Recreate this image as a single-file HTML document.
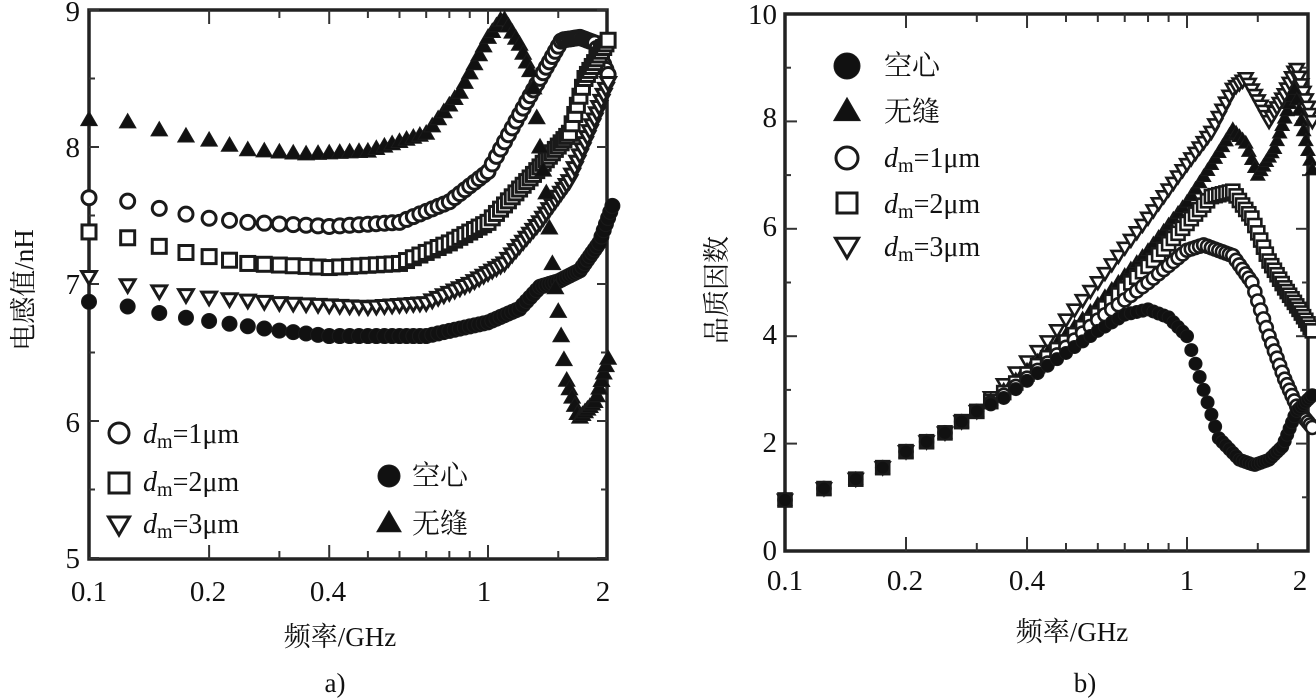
<!DOCTYPE html>
<html><head><meta charset="utf-8">
<style>
html,body{margin:0;padding:0;background:#fff;}
svg{display:block;}
text{font-family:"Liberation Serif","Noto Serif CJK SC","Noto Sans CJK SC",serif;fill:#111;}
</style></head>
<body>
<svg id="s" width="1316" height="698" viewBox="0 0 1316 698" xmlns="http://www.w3.org/2000/svg">
<g id="plots"></g>
<g font-size="29">
<text x="80" y="21" text-anchor="end">9</text>
<text x="80" y="157" text-anchor="end">8</text>
<text x="80" y="294" text-anchor="end">7</text>
<text x="80" y="432" text-anchor="end">6</text>
<text x="80" y="568" text-anchor="end">5</text>
<text x="89" y="601" text-anchor="middle">0.1</text>
<text x="208" y="601" text-anchor="middle">0.2</text>
<text x="328" y="601" text-anchor="middle">0.4</text>
<text x="484" y="601" text-anchor="middle">1</text>
<text x="603" y="601" text-anchor="middle">2</text>
</g>
<text x="340" y="646" font-size="27" text-anchor="middle">频率/GHz</text>
<text x="335" y="692" font-size="27" text-anchor="middle">a)</text>
<text transform="translate(33,290) rotate(-90)" font-size="27" text-anchor="middle">电感值/nH</text>
<g font-size="28">
<text x="143" y="443"><tspan font-style="italic">d</tspan><tspan font-size="20" dy="5">m</tspan><tspan dy="-5">=1μm</tspan></text>
<text x="143" y="491"><tspan font-style="italic">d</tspan><tspan font-size="20" dy="5">m</tspan><tspan dy="-5">=2μm</tspan></text>
<text x="143" y="533"><tspan font-style="italic">d</tspan><tspan font-size="20" dy="5">m</tspan><tspan dy="-5">=3μm</tspan></text>
<text x="412" y="485">空心</text>
<text x="412" y="533">无缝</text>
</g>
<g font-size="29">
<text x="777" y="24" text-anchor="end">10</text>
<text x="777" y="127" text-anchor="end">8</text>
<text x="777" y="236" text-anchor="end">6</text>
<text x="777" y="344" text-anchor="end">4</text>
<text x="777" y="452" text-anchor="end">2</text>
<text x="777" y="560" text-anchor="end">0</text>
<text x="785" y="590" text-anchor="middle">0.1</text>
<text x="905" y="590" text-anchor="middle">0.2</text>
<text x="1027" y="590" text-anchor="middle">0.4</text>
<text x="1187" y="590" text-anchor="middle">1</text>
<text x="1300" y="590" text-anchor="middle">2</text>
</g>
<text x="1072" y="641" font-size="27" text-anchor="middle">频率/GHz</text>
<text x="1085" y="692" font-size="27" text-anchor="middle">b)</text>
<text transform="translate(726,290) rotate(-90)" font-size="27" text-anchor="middle">品质因数</text>
<g font-size="28">
<text x="884" y="75">空心</text>
<text x="884" y="121">无缝</text>
<text x="884" y="167"><tspan font-style="italic">d</tspan><tspan font-size="20" dy="5">m</tspan><tspan dy="-5">=1μm</tspan></text>
<text x="884" y="213"><tspan font-style="italic">d</tspan><tspan font-size="20" dy="5">m</tspan><tspan dy="-5">=2μm</tspan></text>
<text x="884" y="256"><tspan font-style="italic">d</tspan><tspan font-size="20" dy="5">m</tspan><tspan dy="-5">=3μm</tspan></text>
</g>
</svg>
<script>
var NS="http://www.w3.org/2000/svg";
var G=document.getElementById("plots");
function el(t,a){var e=document.createElementNS(NS,t);for(var k in a)e.setAttribute(k,a[k]);G.appendChild(e);return e;}
function marker(type,x,y,r,sw){
  var fill=(type=="fc"||type=="ft")?"#111":"#fff";
  var st={stroke:"#1a1a1a","stroke-width":sw,fill:fill};
  if(type=="c"||type=="fc"){st.cx=x;st.cy=y;st.r=r;el("circle",st);}
  else if(type=="s"){st.x=x-r;st.y=y-r;st.width=2*r;st.height=2*r;el("rect",st);}
  else if(type=="ft"){st.points=(x)+","+(y-r*1.1)+" "+(x-r*1.1)+","+(y+r*0.8)+" "+(x+r*1.1)+","+(y+r*0.8);el("polygon",st);}
  else if(type=="t"){st.points=(x)+","+(y+r*1.0)+" "+(x-r*1.05)+","+(y-r*0.8)+" "+(x+r*1.05)+","+(y-r*0.8);el("polygon",st);}
}
function interp(d,f){
  var lf=Math.log(f);
  for(var i=0;i<d.length-1;i++){
    var a=d[i],b=d[i+1];
    if(f>=a[0]&&f<=b[0]){var t=(lf-Math.log(a[0]))/(Math.log(b[0])-Math.log(a[0]));return a[1]+t*(b[1]-a[1]);}
  }
  return d[d.length-1][1];
}
function series(d,type,X,Y,r,sw,fmax){
  for(var f=0.1;f<=fmax+1e-6;f+=0.025){marker(type,X(f),Y(interp(d,f)),r,sw);}
}
var LX=function(f){return 89+399*Math.log10(f/0.1);};
var LY=function(v){return 10+(9-v)*137;};
var L_c=[[0.1,6.87],[0.13,6.83],[0.16,6.77],[0.2,6.73],[0.3,6.66],[0.4,6.62],[0.7,6.62],[1.0,6.72],[1.2,6.82],[1.35,6.98],[1.5,7.02],[1.7,7.1],[1.9,7.3],[2.05,7.57]];
var L_t=[[0.1,8.2],[0.13,8.18],[0.16,8.1],[0.2,8.05],[0.25,7.98],[0.35,7.95],[0.5,7.97],[0.7,8.1],[0.85,8.4],[1.0,8.8],[1.09,8.95],[1.2,8.75],[1.29,8.52],[1.35,8.0],[1.41,7.6],[1.44,7.22],[1.5,6.8],[1.57,6.31],[1.69,6.02],[1.86,6.15],[2.02,6.5]];
var L_o1=[[0.1,7.63],[0.13,7.6],[0.16,7.53],[0.2,7.48],[0.25,7.45],[0.4,7.42],[0.6,7.45],[0.8,7.6],[1.0,7.82],[1.25,8.33],[1.53,8.78],[1.7,8.8],[1.85,8.76],[2.02,8.5]];
var L_o2=[[0.1,7.38],[0.13,7.33],[0.16,7.25],[0.2,7.2],[0.25,7.15],[0.4,7.12],[0.6,7.15],[0.8,7.3],[1.0,7.45],[1.3,7.8],[1.6,8.1],[1.75,8.5],[2.02,8.8]];
var L_o3=[[0.1,7.05],[0.13,6.98],[0.16,6.93],[0.2,6.9],[0.3,6.86],[0.5,6.83],[0.7,6.86],[0.9,7.0],[1.1,7.15],[1.35,7.45],[1.6,7.75],[1.85,8.2],[2.02,8.5]];
el("rect",{x:89,y:10,width:518,height:549,fill:"none",stroke:"#222","stroke-width":3.5});
[9,8.5,8,7.5,7,6.5,6,5.5,5].forEach(function(v){var len=(v%1==0)?10:6;el("line",{x1:89,y1:LY(v),x2:89+len,y2:LY(v),stroke:"#333","stroke-width":2});el("line",{x1:607,y1:LY(v),x2:607-len,y2:LY(v),stroke:"#333","stroke-width":2});});
[0.2,0.3,0.4,0.5,0.6,0.7,0.8,0.9,1,1.5].forEach(function(f){var len=(f==0.2||f==0.4||f==1)?14:8;el("line",{x1:LX(f),y1:559,x2:LX(f),y2:559-len,stroke:"#333","stroke-width":2});el("line",{x1:LX(f),y1:10,x2:LX(f),y2:10+len,stroke:"#333","stroke-width":2});});
series(L_o1,"c",LX,LY,7,3,2.02);
series(L_o2,"s",LX,LY,7,3,2.02);
series(L_o3,"t",LX,LY,7,3,2.02);
series(L_c,"fc",LX,LY,7.5,1,2.05);
series(L_t,"ft",LX,LY,7.5,1,2.02);
marker("c",119,433,10,3);marker("s",119,483,10,3);marker("t",119,525,10,3);
marker("fc",389,476,11,1);marker("ft",389,523,11,1);
var RX=function(f){return 785+402*Math.log10(f/0.1);};
var RY=function(v){return 551-53.7*v;};
var common=[[0.1,0.95],[0.13,1.2],[0.16,1.4],[0.18,1.6],[0.2,1.85],[0.25,2.2],[0.3,2.6]];
function c(a){return common.concat(a);}
var R_c=c([[0.35,2.85],[0.45,3.45],[0.6,4.1],[0.7,4.4],[0.8,4.5],[0.9,4.35],[1.0,4.0],[1.1,3.0],[1.2,2.1],[1.35,1.7],[1.47,1.6],[1.6,1.7],[1.73,1.95],[1.87,2.6],[2.05,2.9]]);
var R_t=c([[0.35,3.0],[0.45,3.7],[0.6,4.6],[0.8,5.6],[1.0,6.5],[1.15,7.2],[1.3,7.85],[1.4,7.6],[1.5,7.0],[1.65,7.5],[1.85,8.6],[2.05,7.1]]);
var R_1=c([[0.35,2.9],[0.45,3.5],[0.6,4.3],[0.8,5.0],[1.0,5.6],[1.1,5.7],[1.3,5.5],[1.45,5.0],[1.6,4.0],[1.75,3.2],[1.9,2.6],[2.05,2.3]]);
var R_2=c([[0.35,2.95],[0.45,3.6],[0.6,4.4],[0.8,5.3],[1.0,6.1],[1.15,6.6],[1.3,6.7],[1.45,6.2],[1.6,5.4],[1.75,4.9],[1.9,4.5],[2.05,4.1]]);
var R_3=c([[0.35,3.1],[0.45,3.9],[0.6,5.0],[0.8,6.2],[1.0,7.2],[1.15,7.8],[1.3,8.6],[1.4,8.8],[1.6,8.0],[1.75,8.5],[1.87,9.0],[2.05,8.0]]);
el("rect",{x:785,y:14,width:523,height:537,fill:"none",stroke:"#222","stroke-width":3.5});
[1,2,3,4,5,6,7,8,9].forEach(function(v){var len=(v%2==0)?12:6;el("line",{x1:785,y1:RY(v),x2:785+len,y2:RY(v),stroke:"#333","stroke-width":2});el("line",{x1:1308,y1:RY(v),x2:1308-len,y2:RY(v),stroke:"#333","stroke-width":2});});
[0.2,0.3,0.4,0.5,0.6,0.7,0.8,0.9,1,1.5].forEach(function(f){var len=(f==0.2||f==0.4||f==1)?14:8;el("line",{x1:RX(f),y1:551,x2:RX(f),y2:551-len,stroke:"#333","stroke-width":2});el("line",{x1:RX(f),y1:14,x2:RX(f),y2:14+len,stroke:"#333","stroke-width":2});});
series(R_3,"t",RX,RY,6.5,2.6,2.05);
series(R_t,"ft",RX,RY,6.5,1,2.05);
series(R_2,"s",RX,RY,6.5,2.6,2.05);
series(R_1,"c",RX,RY,6.5,2.6,2.05);
series(R_c,"fc",RX,RY,6.5,1,2.05);
marker("fc",847,66,13,1);marker("ft",847,111,12,1);marker("c",847,158,11,3);marker("s",847,203,10,3);marker("t",847,247,11,3);
</script>
</body></html>
